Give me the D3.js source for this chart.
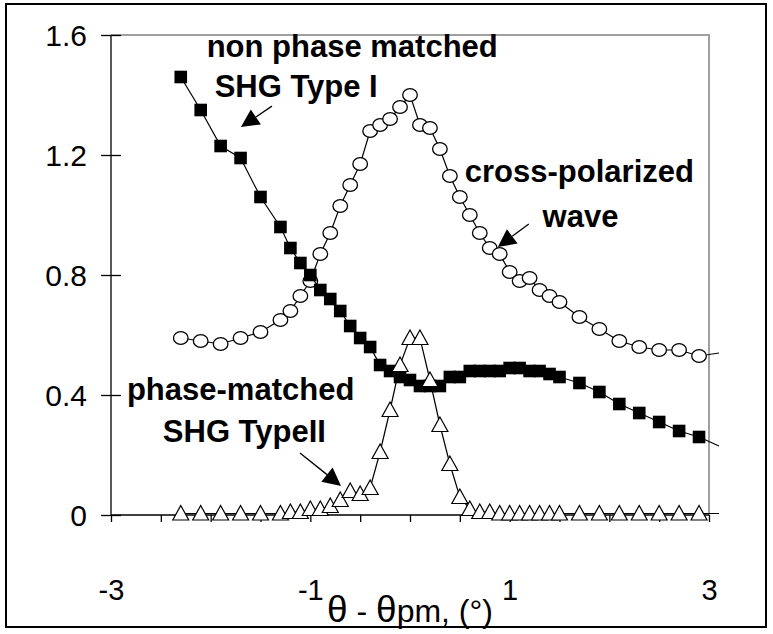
<!DOCTYPE html>
<html>
<head>
<meta charset="utf-8">
<script src="https://cdn.jsdelivr.net/npm/d3@7"></script>
<style>
  body { margin: 0; background: #fff; }
  svg { font-family: "Liberation Sans", Arial, sans-serif; }
  .axis path, .axis line { stroke: #000; stroke-width: 1.3; }
  .axis text { font-size: 29px; fill: #000; }
  .note { font-size: 31px; font-weight: bold; fill: #000; }
</style>
</head>
<body>
<svg id="chart"></svg>
<script>
// angle offsets (deg) and signals
const squareX = [-2.3, -2.1, -1.9, -1.7, -1.5, -1.3, -1.2, -1.1, -1.0, -0.9, -0.8, -0.7, -0.6, -0.5, -0.4, -0.3, -0.2, -0.1, 0, 0.1, 0.2, 0.3, 0.4, 0.5, 0.6, 0.7, 0.8, 0.9, 1.0, 1.1, 1.2, 1.3, 1.4, 1.5, 1.7, 1.9, 2.1, 2.3, 2.5, 2.7, 2.9, 3.1];
const squareY = [1.46, 1.35, 1.23, 1.19, 1.06, 0.96, 0.89, 0.84, 0.80, 0.75, 0.72, 0.68, 0.63, 0.59, 0.56, 0.50, 0.48, 0.46, 0.45, 0.43, 0.43, 0.43, 0.46, 0.46, 0.48, 0.48, 0.48, 0.48, 0.49, 0.49, 0.48, 0.48, 0.47, 0.46, 0.44, 0.41, 0.37, 0.34, 0.31, 0.28, 0.26, 0.23];

const circleX = squareX;
const circleY = [0.59, 0.58, 0.57, 0.59, 0.61, 0.65, 0.68, 0.73, 0.78, 0.87, 0.94, 1.03, 1.10, 1.17, 1.28, 1.30, 1.32, 1.36, 1.40, 1.30, 1.29, 1.22, 1.13, 1.06, 1.00, 0.94, 0.89, 0.87, 0.81, 0.78, 0.79, 0.75, 0.73, 0.71, 0.66, 0.62, 0.58, 0.56, 0.55, 0.55, 0.53, 0.54];

const triangleX = squareX;
const triangleY = [0.005, 0.005, 0.005, 0.005, 0.005, 0.005, 0.01, 0.01, 0.02, 0.02, 0.03, 0.05, 0.08, 0.07, 0.09, 0.21, 0.35, 0.50, 0.59, 0.59, 0.45, 0.30, 0.17, 0.06, 0.02, 0.01, 0.01, 0.005, 0.005, 0.005, 0.005, 0.005, 0.005, 0.005, 0.005, 0.005, 0.005, 0.005, 0.005, 0.005, 0.005, 0.005];

const yTicks = [0, 0.4, 0.8, 1.2, 1.6];
const xTicks = [-3, -2.5, -2, -1.5, -1, -0.5, 0, 0.5, 1, 1.5, 2, 2.5, 3];
const xLabels = [-3, -1, 1, 3];

// annotations, in data units
const notes = [
    { text: "non phase matched", x: -2.04, y: 1.527 },
    { text: "SHG Type I", x: -1.96, y: 1.393 },
    { text: "cross-polarized", x: 0.55, y: 1.11 },
    { text: "wave", x: 1.33, y: 0.96 },
    { text: "phase-matched", x: -2.84, y: 0.383 },
    { text: "SHG TypeII", x: -2.48, y: 0.243 }
];
const arrows = [
    { x1: -1.385, y1: 1.363, x2: -1.696, y2: 1.293 },
    { x1: 1.192, y1: 0.97, x2: 0.881, y2: 0.893 },
    { x1: -1.104, y1: 0.207, x2: -0.692, y2: 0.097 }
];

const width = 773, height = 634;
const svg = d3.select("#chart").attr("width", width).attr("height", height);

// outer frame
svg.append("rect")
    .attr("x", 6).attr("y", 4)
    .attr("width", 760).attr("height", 623)
    .attr("fill", "white").attr("stroke", "#000").attr("stroke-width", 2);

const x = d3.scaleLinear().domain([-3, 3]).range([111, 709]);
const y = d3.scaleLinear().domain([0, 1.6]).range([515, 35]);

// grey plot border (top + right)
svg.append("path")
    .attr("d", `M${x(-3)},${y(1.6)}H${x(3)}V${y(0)}`)
    .attr("fill", "none")
    .attr("stroke", "#a0a0a0")
    .attr("stroke-width", 2);

// Y axis
const yAxis = d3.axisLeft(y)
    .tickValues(yTicks)
    .tickSize(10)
    .tickFormat(d => d === 0 ? "0" : d3.format(".1f")(d));
const gy = svg.append("g")
    .attr("class", "axis")
    .attr("transform", `translate(${x(-3)},0)`)
    .call(yAxis);
gy.select(".domain").attr("d", `M0,${y(0)}V${y(1.6)}`);
gy.selectAll(".tick line").attr("x1", -10).attr("x2", 10);
gy.selectAll(".tick text").attr("x", -24).attr("dy", "0.36em").style("font-size", "30px");

// X axis
const xAxis = d3.axisBottom(x)
    .tickValues(xTicks)
    .tickSize(7)
    .tickFormat(d => xLabels.includes(d) ? String(d) : "");
const gx = svg.append("g")
    .attr("class", "axis")
    .attr("transform", `translate(0,${y(0)})`)
    .call(xAxis);
gx.select(".domain").attr("d", `M${x(-3)},0H${x(3)}`);
gx.selectAll(".tick text").attr("y", 85).attr("dy", 0).style("font-size", "29px");

// axis title
const title = svg.append("text")
    .attr("x", 410).attr("y", 622)
    .attr("text-anchor", "middle")
    .attr("font-size", 32);
title.append("tspan").attr("font-size", 37).text("θ");
title.append("tspan").text(" - ");
title.append("tspan").attr("font-size", 37).text("θ");
title.append("tspan").text("pm, (°)");

// series
const series = [
    { xs: circleX, ys: circleY, kind: "circle" },
    { xs: squareX, ys: squareY, kind: "square" },
    { xs: triangleX, ys: triangleY, kind: "triangle" }
];

const line = d3.line().x(d => x(d[0])).y(d => y(d[1]));

series.forEach(s => {
    const pts = s.xs.map((v, i) => [v, s.ys[i]]);
    svg.append("path")
        .datum(pts)
        .attr("d", line)
        .attr("fill", "none")
        .attr("stroke", "#000")
        .attr("stroke-width", 1.2);

    const inside = pts.filter(p => p[0] <= 3);
    const g = svg.append("g");
    if (s.kind === "circle") {
        g.selectAll("ellipse").data(inside).enter().append("ellipse")
            .attr("cx", d => x(d[0])).attr("cy", d => y(d[1]))
            .attr("rx", 7.3).attr("ry", 6.3)
            .attr("fill", "white").attr("stroke", "#000").attr("stroke-width", 1.3);
    } else if (s.kind === "square") {
        g.selectAll("rect").data(inside).enter().append("rect")
            .attr("x", d => x(d[0]) - 6.3).attr("y", d => y(d[1]) - 6.3)
            .attr("width", 12.6).attr("height", 12.6)
            .attr("fill", "#000");
    } else {
        g.selectAll("path").data(inside).enter().append("path")
            .attr("transform", d => `translate(${x(d[0])},${y(d[1])})`)
            .attr("d", "M0,-8L8,6.5H-8Z")
            .attr("fill", "white").attr("stroke", "#000").attr("stroke-width", 1.2);
    }
});

// annotation text
svg.selectAll(".note")
    .data(notes)
    .enter()
    .append("text")
    .attr("class", "note")
    .attr("x", d => x(d.x))
    .attr("y", d => y(d.y))
    .text(d => d.text);

// arrows
arrows.forEach(a => {
    const x1 = x(a.x1), y1 = y(a.y1), x2 = x(a.x2), y2 = y(a.y2);
    const ang = Math.atan2(y2 - y1, x2 - x1);
    const len = 18, half = 9;
    const bx = x2 - len * Math.cos(ang), by = y2 - len * Math.sin(ang);
    svg.append("line")
        .attr("x1", x1).attr("y1", y1).attr("x2", bx).attr("y2", by)
        .attr("stroke", "#000").attr("stroke-width", 1.3);
    svg.append("path")
        .attr("d", `M${x2},${y2}L${bx + half * Math.sin(ang)},${by - half * Math.cos(ang)}L${bx - half * Math.sin(ang)},${by + half * Math.cos(ang)}Z`)
        .attr("fill", "#000");
});
</script>
</body>
</html>
